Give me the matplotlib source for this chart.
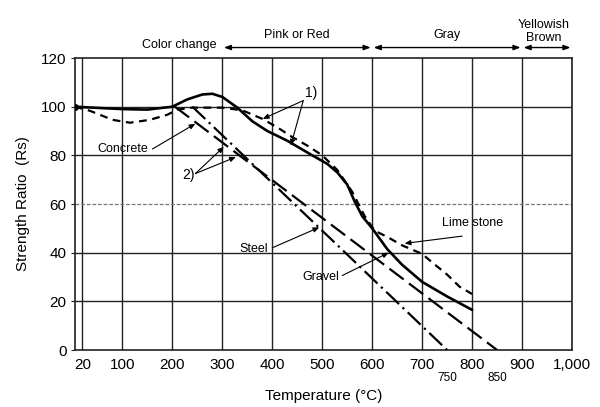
import matplotlib
matplotlib.use("Agg")
import matplotlib.pyplot as plt

plt.rcParams['font.family'] = ['Liberation Sans', 'DejaVu Sans']

# ---- data ----
gravel_T = [5, 50, 100, 150, 200, 230, 260, 280, 300, 330, 360, 390, 430, 480, 510, 530,
            550, 565, 580, 600, 630, 660, 700, 750, 800]
gravel_R = [100, 99.5, 99, 98.8, 100, 103, 105, 105.3, 104, 99.6, 94, 90, 86, 80, 76.5, 73,
            68, 61, 55, 50, 41.5, 35, 28, 22, 16.5]

lime_T = [5, 35, 80, 115, 155, 190, 210, 240, 300, 340, 380, 410, 440, 470, 500, 530,
          560, 585, 605, 630, 660, 700, 720, 750, 775, 800]
lime_R = [100, 98.3, 94.6, 93.4, 94.6, 96.7, 98.8, 99.6, 99.6, 98.5, 95, 91.5, 87.5, 84, 80, 74,
          65, 55, 49, 46.5, 43, 39.5, 36, 31, 26, 23]

concrete_T = [205, 850]
concrete_R = [100, 0]

steel_T = [240, 750]
steel_R = [100, 0]

xticks = [20, 100, 200, 300, 400, 500, 600, 700, 800, 900, 1000]
xtick_labels = ['20', '100', '200', '300', '400', '500', '600', '700', '800', '900', '1,000']
yticks = [0, 20, 40, 60, 80, 100, 120]

color_bands = [(300, 600, 'Pink or Red'), (600, 900, 'Gray'), (900, 1000, 'Yellowish\nBrown')]

# ---- figure ----
fig = plt.figure(figsize=(6.0, 4.07), dpi=100)
L, R_, T_, B = 75, 572, 58, 350
ax = fig.add_axes([L / 600, 1 - B / 407, (R_ - L) / 600, (B - T_) / 407])
ax.set_xlim(5, 1000)
ax.set_ylim(0, 120)

# grid
for x in xticks:
    ax.axvline(x, color='#222222', lw=1.0, zorder=1)
for y in yticks[1:-1]:
    if y == 60:
        ax.axhline(y, color='#777777', lw=0.9, ls=(0, (3, 1.5)), zorder=1)
    else:
        ax.axhline(y, color='#222222', lw=1.0, zorder=1)

for s in ax.spines.values():
    s.set_color('#222222')
    s.set_linewidth(1.2)

# curves
ax.plot(gravel_T, gravel_R, color='black', lw=1.9, zorder=3, solid_capstyle='round')
ax.plot(lime_T, lime_R, color='black', lw=1.6, ls=(0, (3.5, 2.5)), zorder=3)
ax.plot(concrete_T, concrete_R, color='black', lw=1.6, ls=(0, (8, 3)), zorder=3)
ax.plot(steel_T, steel_R, color='black', lw=1.6, ls=(0, (8, 2.2, 1, 2.2)), zorder=3)
ax.plot([5], [100], 'o', color='black', ms=4, zorder=4)

ax.set_xticks(xticks)
ax.set_xticklabels(xtick_labels, fontsize=11)
ax.set_yticks(yticks)
ax.set_yticklabels([str(v) for v in yticks], fontsize=11)
ax.tick_params(axis='both', length=3, width=0.8, color='#222222', pad=3)
ax.tick_params(axis='x', length=0, pad=6)

ax.set_xlabel('Temperature (°C)', fontsize=11, labelpad=12)
ax.set_ylabel('Strength Ratio  (Rs)', fontsize=11, labelpad=8)

# extra end labels
ax.text(750, -11.5, '750', fontsize=8.5, ha='center', va='center', clip_on=False)
ax.text(850, -11.5, '850', fontsize=8.5, ha='center', va='center', clip_on=False)

# annotations inside plot
ap = dict(arrowstyle='-|>,head_length=0.35,head_width=0.15', color='black', lw=0.8,
          shrinkA=0, shrinkB=0)
ax.text(478, 105.5, '1)', fontsize=10, ha='center', va='center')
ax.annotate('', xy=(381, 95), xytext=(462, 102.5), arrowprops=ap)
ax.annotate('', xy=(437, 84), xytext=(462, 102.5), arrowprops=ap)

ax.text(232, 72, '2)', fontsize=10, ha='center', va='center')
ax.annotate('', xy=(303, 83.5), xytext=(246, 72.5), arrowprops=ap)
ax.annotate('', xy=(327, 79.3), xytext=(246, 72.5), arrowprops=ap)

ax.text(100, 82.6, 'Concrete', fontsize=9, ha='center', va='center')
ax.annotate('', xy=(246, 93), xytext=(160, 82.6), arrowprops=ap)

ax.text(363, 41.5, 'Steel', fontsize=9, ha='center', va='center')
ax.annotate('', xy=(494, 50.4), xytext=(400, 42), arrowprops=ap)

ax.text(497, 30, 'Gravel', fontsize=9, ha='center', va='center')
ax.annotate('', xy=(633, 40), xytext=(540, 30.6), arrowprops=ap)

ax.text(800, 52, 'Lime stone', fontsize=9, ha='center', va='center')
ax.annotate('', xy=(665, 43.8), xytext=(780, 46.8), arrowprops=ap)

# colour-change bands above the plot
ax.text(288, 125.3, 'Color change', fontsize=9, ha='right', va='center', clip_on=False)
bap = dict(arrowstyle='<|-|>,head_length=0.4,head_width=0.15', color='black', lw=1.0,
           shrinkA=0, shrinkB=0)
for (a, b, lab) in color_bands:
    ax.annotate('', xy=(a + 3, 124.3), xytext=(b - 3, 124.3), arrowprops=bap,
                annotation_clip=False)
    if '\n' in lab:
        ax.text((a + b) / 2 - 6, 130.8, lab, fontsize=9, ha='center', va='center',
                linespacing=1.1, clip_on=False)
    else:
        ax.text((a + b) / 2, 129.3, lab, fontsize=9, ha='center', va='center', clip_on=False)

fig.savefig('out.png', dpi=100)
